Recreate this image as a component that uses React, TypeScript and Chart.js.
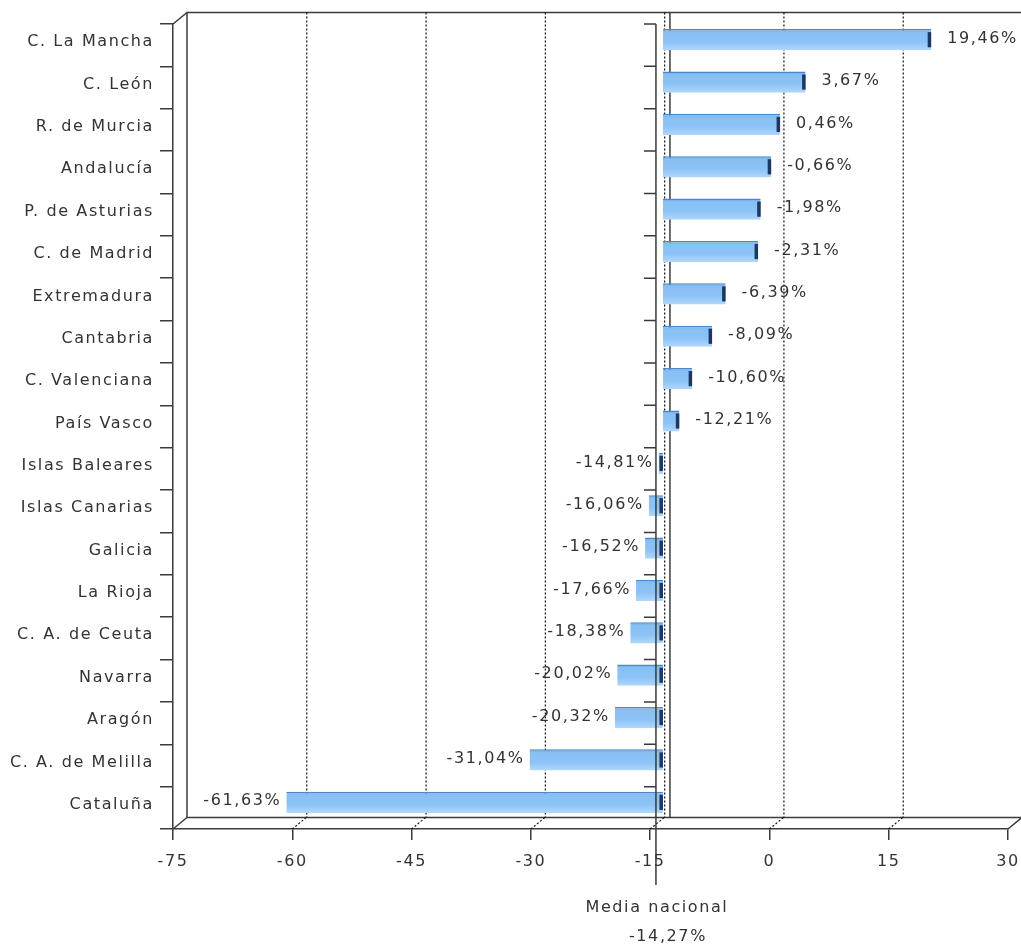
import React, { useEffect, useRef } from "react";
import { Chart, registerables } from "chart.js";

Chart.register(...registerables);

const categories = [
  "C. La Mancha",
  "C. León",
  "R. de Murcia",
  "Andalucía",
  "P. de Asturias",
  "C. de Madrid",
  "Extremadura",
  "Cantabria",
  "C. Valenciana",
  "País Vasco",
  "Islas Baleares",
  "Islas Canarias",
  "Galicia",
  "La Rioja",
  "C. A. de Ceuta",
  "Navarra",
  "Aragón",
  "C. A. de Melilla",
  "Cataluña",
];

const values = [
  19.46, 3.67, 0.46, -0.66, -1.98, -2.31, -6.39, -8.09, -10.6, -12.21,
  -14.81, -16.06, -16.52, -17.66, -18.38, -20.02, -20.32, -31.04, -61.63,
];

const mediaNacional = -14.27;
const mediaTitle = "Media nacional";
const mediaValueLabel = "-14,27%";

const xTickMin = -75;
const xTickMax = 30;
const xTickStep = 15;

const fmt = (v: number) => v.toFixed(2).replace(".", ",") + "%";

const BACK_DX = 14;
const BACK_DY = -11.5;
const BAR_DX = 7;
const BAR_DY = -5.5;
const FONT_FAMILY = '"DejaVu Sans", sans-serif';
const FONT_SIZE = 16;
const FONT = `${FONT_SIZE}px ${FONT_FAMILY}`;
const SPACING = "1.6px";
const TEXT = "#333333";
const LINE = "#3a3a3a";

const depthPlugin = {
  id: "depth3d",
  beforeDraw(chart: any) {
    chart.ctx.letterSpacing = SPACING;
  },
  beforeDatasetsDraw(chart: any) {
    const { ctx, chartArea: a, scales } = chart;
    const x = scales.x;
    ctx.save();
    ctx.strokeStyle = LINE;
    ctx.lineWidth = 1.5;
    ctx.beginPath();
    ctx.moveTo(a.left + BACK_DX, a.bottom + BACK_DY);
    ctx.lineTo(a.left + BACK_DX, a.top + BACK_DY);
    ctx.lineTo(a.right + BACK_DX, a.top + BACK_DY);
    ctx.moveTo(a.left + BACK_DX, a.bottom + BACK_DY);
    ctx.lineTo(a.right + BACK_DX, a.bottom + BACK_DY);
    ctx.moveTo(a.left, a.top);
    ctx.lineTo(a.left + BACK_DX, a.top + BACK_DY);
    ctx.moveTo(a.left, a.bottom);
    ctx.lineTo(a.left + BACK_DX, a.bottom + BACK_DY);
    ctx.moveTo(a.right, a.bottom);
    ctx.lineTo(a.right + BACK_DX, a.bottom + BACK_DY);
    ctx.stroke();

    ctx.lineWidth = 1.2;
    ctx.setLineDash([2, 2]);
    ctx.strokeStyle = "#111";
    ctx.beginPath();
    x.ticks.forEach((t: any) => {
      const px = x.getPixelForValue(t.value);
      if (t.value > xTickMin && t.value < xTickMax) {
        ctx.moveTo(px + BACK_DX + 0.5, a.top + BACK_DY);
        ctx.lineTo(px + BACK_DX + 0.5, a.bottom + BACK_DY);
        ctx.moveTo(px, a.bottom);
        ctx.lineTo(px + BACK_DX, a.bottom + BACK_DY);
      }
    });
    ctx.stroke();

    ctx.setLineDash([]);
    ctx.lineWidth = 1.5;
    ctx.strokeStyle = LINE;
    const mx = x.getPixelForValue(mediaNacional);
    ctx.beginPath();
    ctx.moveTo(mx + BACK_DX, a.top + BACK_DY);
    ctx.lineTo(mx + BACK_DX, a.bottom + BACK_DY);
    ctx.stroke();
    ctx.restore();

    ctx.save();
    ctx.translate(BAR_DX, BAR_DY);
  },
  afterDatasetsDraw(chart: any) {
    const { ctx, chartArea: a, scales } = chart;
    ctx.restore();
    const x = scales.x;
    const y = scales.y;
    const meta = chart.getDatasetMeta(0);

    ctx.save();
    meta.data.forEach((el: any) => {
      const right = Math.max(el.x, el.base) + BAR_DX;
      const top = el.y - el.height / 2 + BAR_DY;
      ctx.fillStyle = "#1c3763";
      ctx.fillRect(right - 3.5, top + 3, 3.5, el.height - 6);
    });

    const mx = x.getPixelForValue(mediaNacional);
    const half = (y.getPixelForValue(1) - y.getPixelForValue(0)) / 2;
    ctx.strokeStyle = LINE;
    ctx.lineWidth = 1.5;
    ctx.beginPath();
    ctx.moveTo(mx, a.top);
    ctx.lineTo(mx, a.bottom + 56);
    for (let i = 0; i < categories.length; i++) {
      const yb = y.getPixelForValue(i) - half;
      ctx.moveTo(mx - 12, yb);
      ctx.lineTo(mx, yb);
    }
    ctx.stroke();

    ctx.font = FONT;
    ctx.fillStyle = TEXT;
    ctx.letterSpacing = SPACING;
    ctx.textBaseline = "middle";
    meta.data.forEach((el: any, i: number) => {
      const v = values[i];
      const yc = el.y + BAR_DY - 1;
      if (v >= mediaNacional) {
        ctx.textAlign = "left";
        ctx.fillText(fmt(v), Math.max(el.x, el.base) + BAR_DX + 16, yc);
      } else {
        ctx.textAlign = "right";
        ctx.fillText(fmt(v), Math.min(el.x, el.base) + BAR_DX - 5, yc);
      }
    });

    ctx.textAlign = "center";
    ctx.fillText(mediaTitle, mx + 1, a.bottom + 79);
    ctx.fillText(mediaValueLabel, mx + 12, a.bottom + 108);
    ctx.restore();
  },
};

export default function App() {
  const ref = useRef<HTMLCanvasElement | null>(null);

  useEffect(() => {
    if (!ref.current) return;
    const chart = new Chart(ref.current, {
      type: "bar",
      data: {
        labels: categories,
        datasets: [
          {
            data: values.map((v) => [mediaNacional, v]) as any,
            backgroundColor: (c: any) => {
              const ch = c.chart;
              const ys = ch.scales && ch.scales.y;
              if (!ys || c.dataIndex === undefined) return "#8cc2f4";
              const yc = ys.getPixelForValue(c.dataIndex);
              if (!Number.isFinite(yc)) return "#8cc2f4";
              const h = 10.6;
              const g = ch.ctx.createLinearGradient(0, yc - h, 0, yc + h);
              g.addColorStop(0, "#6aa6e4");
              g.addColorStop(0.15, "#88c0f4");
              g.addColorStop(0.6, "#8cc3f6");
              g.addColorStop(1, "#b0d7fc");
              return g;
            },
            borderColor: "#4a88cc",
            borderWidth: { top: 1.5, left: 0, right: 0, bottom: 0 } as any,
            borderSkipped: false,
            categoryPercentage: 1,
            barPercentage: 0.5,
            clip: false as any,
          },
        ],
      },
      options: {
        indexAxis: "y",
        responsive: false,
        maintainAspectRatio: false,
        animation: false,
        devicePixelRatio: 1,
        layout: { padding: { top: 24, right: 13, left: 0, bottom: 0 } },
        plugins: {
          legend: { display: false },
          tooltip: { enabled: false },
        },
        scales: {
          x: {
            type: "linear",
            position: "bottom",
            min: xTickMin,
            max: xTickMax,
            ticks: {
              stepSize: xTickStep,
              color: TEXT,
              font: { family: FONT_FAMILY, size: FONT_SIZE },
              padding: 12,
              maxRotation: 0,
              autoSkip: false,
            },
            grid: {
              drawOnChartArea: false,
              drawTicks: true,
              tickLength: 11,
              color: LINE,
              lineWidth: 1.5,
            },
            border: { display: true, color: LINE, width: 1.5 },
            afterFit: (s: any) => {
              s.height = 115;
              s.paddingLeft = 0;
              s.paddingRight = 0;
            },
          },
          y: {
            type: "category",
            position: "left",
            ticks: {
              color: TEXT,
              font: { family: FONT_FAMILY, size: FONT_SIZE },
              padding: 6,
              labelOffset: -3,
              autoSkip: false,
            },
            grid: {
              offset: true,
              drawOnChartArea: false,
              drawTicks: true,
              tickLength: 13,
              color: LINE,
              lineWidth: 1.5,
            },
            border: { display: true, color: LINE, width: 1.5 },
            afterFit: (s: any) => {
              s.width = 173;
              s.paddingTop = 0;
              s.paddingBottom = 0;
            },
          },
        },
      } as any,
      plugins: [depthPlugin],
    });
    return () => chart.destroy();
  }, []);

  return (
    <div
      style={{
        position: "absolute",
        left: 0,
        top: 0,
        width: 1021,
        height: 944,
        background: "#fff",
      }}
    >
      <canvas ref={ref} width={1021} height={944} style={{ display: "block" }} />
    </div>
  );
}
